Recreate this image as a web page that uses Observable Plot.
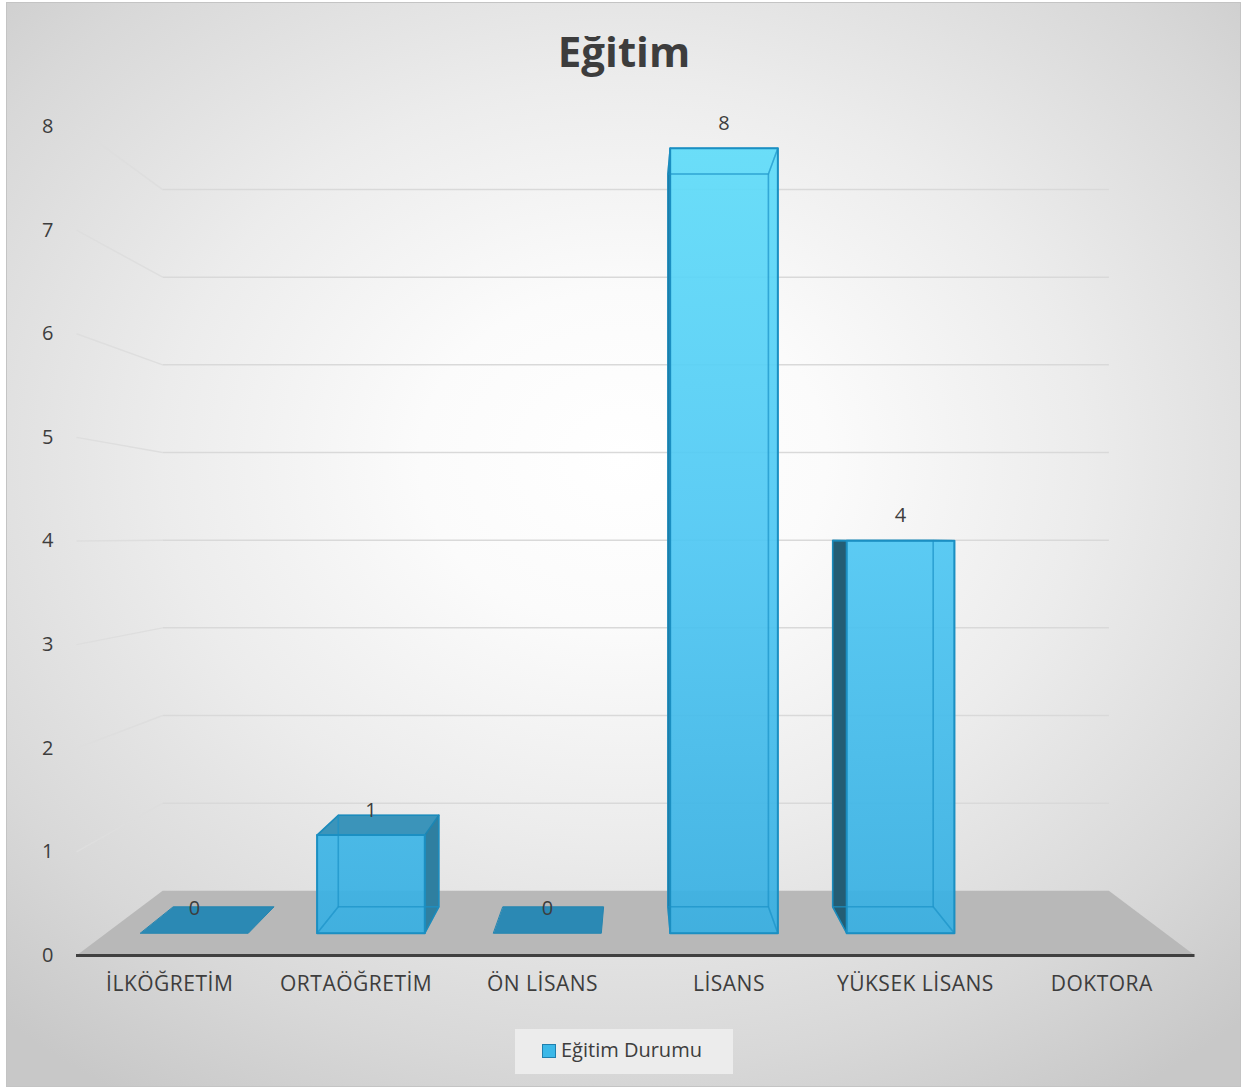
<!DOCTYPE html>
<html>
<head>
<meta charset="utf-8">
<script src="https://cdn.jsdelivr.net/npm/d3@7"></script>
<script src="https://cdn.jsdelivr.net/npm/@observablehq/plot@0.6"></script>
<style>
  body { margin: 0; background: #fff; }
  #wrap { position: relative; width: 1248px; height: 1089px; background: #fff; overflow: hidden; font-family: "Open Sans", sans-serif; color: #3d3d3d; }
  #frame { position: absolute; left: 6px; top: 2px; width: 1235px; height: 1085px; box-sizing: border-box; border: 1px solid #c4c4c4;
    background: radial-gradient(ellipse 75% 70% at 50% 42%, #ffffff 0%, #fbfbfb 22%, #ececec 50%, #d8d8d8 80%, #c8c8c8 100%); }
  #title { position: absolute; left: 0; top: 30px; width: 1248px; text-align: center; font-weight: 700; font-size: 42px; line-height: 42px; }
  #plot { position: absolute; left: 0; top: 95px; }
  #legend { position: absolute; left: 515px; top: 1029px; width: 218px; height: 45px; background: #ececec; }
  #legend .sw { position: absolute; left: 27px; top: 15px; width: 14px; height: 14px; box-sizing: border-box; background: #3bb8e8; border: 1.5px solid #1f7fae; }
  #legend .lb { position: absolute; left: 46px; top: 7px; font-size: 20px; line-height: 28px; white-space: nowrap; }
  #plot svg g[aria-label="x-axis tick label"] text { letter-spacing: 0.5px; font-size: 21px; }
</style>
</head>
<body>
<div id="wrap">
  <div id="frame"></div>
  <div id="title"></div>
  <div id="plot"></div>
  <div id="legend"><div class="sw"></div><div class="lb"></div></div>
</div>
<script>
// ---- data ----
const chartTitle = "Eğitim";
const seriesName = "Eğitim Durumu";
const categories = ["İLKÖĞRETİM", "ORTAÖĞRETİM", "ÖN LİSANS", "LİSANS", "YÜKSEK LİSANS", "DOKTORA"];
const values = [0, 1, 0, 8, 4, null];
const yTicks = [0, 1, 2, 3, 4, 5, 6, 7, 8];

document.getElementById("title").textContent = chartTitle;
document.querySelector("#legend .lb").textContent = seriesName;

// ---- simple perspective (in data units) ----
const VPX = (categories.length - 1) / 2, VPY = 4.05;
const SF = 0.947, SB = 0.884, SW = 0.846, HALF = 0.305;
const X0 = -0.5, X1 = categories.length - 0.5;
const proj = (x, v, s) => ({x: VPX + s * (x - VPX), y: VPY + s * (v - VPY)});
const poly = (id, pts) => pts.map(([x, v, s]) => ({id, ...proj(x, v, s)}));

const bars = categories.map((c, i) => ({cat: c, i, v: values[i]})).filter(d => d.v != null);
const front = [], hidden = [], sideR = [], sideL = [], topVis = [], zeroF = [];
bars.forEach(d => {
  const xl = d.i - HALF, xr = d.i + HALF, v = d.v;
  if (v > 0) {
    front.push(...poly(d.cat, [[xl,0,SF],[xr,0,SF],[xr,v,SF],[xl,v,SF]]));
    hidden.push(...poly(d.cat + "b", [[xl,0,SB],[xr,0,SB],[xr,v,SB],[xl,v,SB]]));
    hidden.push(...poly(d.cat + "bo", [[xl,0,SF],[xr,0,SF],[xr,0,SB],[xl,0,SB]]));
    const visRight = xr < VPX;
    const vx = visRight ? xr : xl, hx = visRight ? xl : xr;
    (visRight ? sideR : sideL).push(...poly(d.cat + "s", [[vx,0,SF],[vx,0,SB],[vx,v,SB],[vx,v,SF]]));
    hidden.push(...poly(d.cat + "h", [[hx,0,SF],[hx,0,SB],[hx,v,SB],[hx,v,SF]]));
    const topFace = poly(d.cat + "t", [[xl,v,SF],[xr,v,SF],[xr,v,SB],[xl,v,SB]]);
    if (v < VPY) topVis.push(...topFace); else hidden.push(...topFace);
  } else {
    zeroF.push(...poly(d.cat, [[xl,0,SF],[xr,0,SF],[xr,0,SB],[xl,0,SB]]));
  }
});
const floor = poly("floor", [[X0,0,1],[X1,0,1],[X1,0,SW],[X0,0,SW]]);
const grid = yTicks.filter(t => t > 0);
const backLines = grid.map(t => ({a: proj(X0, t, SW), b: proj(X1, t, SW)}));
const sideLines = grid.map(t => ({a: proj(X0, t, 1), b: proj(X0, t, SW)}));

const polyOpts = (o) => ({x: "x", y: "y", z: "id", curve: "linear-closed", ...o});

const chart = Plot.plot({
  width: 1248, height: 920,
  marginLeft: 76, marginRight: 53.5, marginTop: 31, marginBottom: 60,
  style: {background: "transparent", fontFamily: "'Open Sans', sans-serif", fontSize: "20px", color: "#3d3d3d", overflow: "visible"},
  x: {domain: [X0, X1], ticks: d3.range(categories.length), tickFormat: i => categories[i], tickSize: 0, tickPadding: 21, label: null},
  y: {domain: [0, 8], ticks: yTicks, tickSize: 0, tickPadding: 23, label: null},
  marks: [
    Plot.link(sideLines, {x1: d => d.a.x, y1: d => d.a.y, x2: d => d.b.x, y2: d => d.b.y, stroke: "#dedede", strokeWidth: 1.5}),
    Plot.link(backLines, {x1: d => d.a.x, y1: d => d.a.y, x2: d => d.b.x, y2: d => d.b.y, stroke: "#d9d9d9", strokeWidth: 1.5}),
    Plot.line(floor, polyOpts({fill: "#b8b8b8", stroke: "none"})),
    Plot.ruleY([0], {stroke: "#404040", strokeWidth: 3}),
    Plot.line(zeroF, polyOpts({fill: "#2b89b4", stroke: "#2585b0", strokeWidth: 1})),
    Plot.line(sideR, polyOpts({fill: "#2f7fa0", stroke: "#1d86b3", strokeWidth: 1.5})),
    Plot.line(sideL, polyOpts({fill: "#245d74", stroke: "#1d86b3", strokeWidth: 1.5})),
    Plot.line(topVis, polyOpts({fill: "#3b94ba", stroke: "#1d86b3", strokeWidth: 1.5})),
    Plot.line(front, polyOpts({fill: "url(#barGrad)", fillOpacity: 0.92, stroke: "none"})),
    Plot.line(hidden, polyOpts({stroke: "#1a92c8", strokeOpacity: 0.45, strokeWidth: 1.5})),
    Plot.line(front, polyOpts({stroke: "#1b8fc2", strokeWidth: 2})),
    Plot.text(bars, {x: d => proj(d.i, d.v, SF).x, y: d => proj(d.i, d.v, SF).y, text: d => String(d.v), dy: -25, fontSize: 20, fill: "#3d3d3d"})
  ]
});

// gradient for bar fronts, positioned through the y scale
const yS = chart.scale("y");
const gTop = yS.apply(proj(0, d3.max(values), SF).y);
const gBot = yS.apply(proj(0, 0, SF).y);
const defs = d3.select(chart).insert("defs", ":first-child");
const lg = defs.append("linearGradient").attr("id", "barGrad").attr("gradientUnits", "userSpaceOnUse")
  .attr("x1", 0).attr("x2", 0).attr("y1", gTop).attr("y2", gBot);
lg.append("stop").attr("offset", 0).attr("stop-color", "#5fdcf9");
lg.append("stop").attr("offset", 0.5).attr("stop-color", "#4ec7f3");
lg.append("stop").attr("offset", 1).attr("stop-color", "#37afe2");

document.getElementById("plot").appendChild(chart);
</script>
</body>
</html>
